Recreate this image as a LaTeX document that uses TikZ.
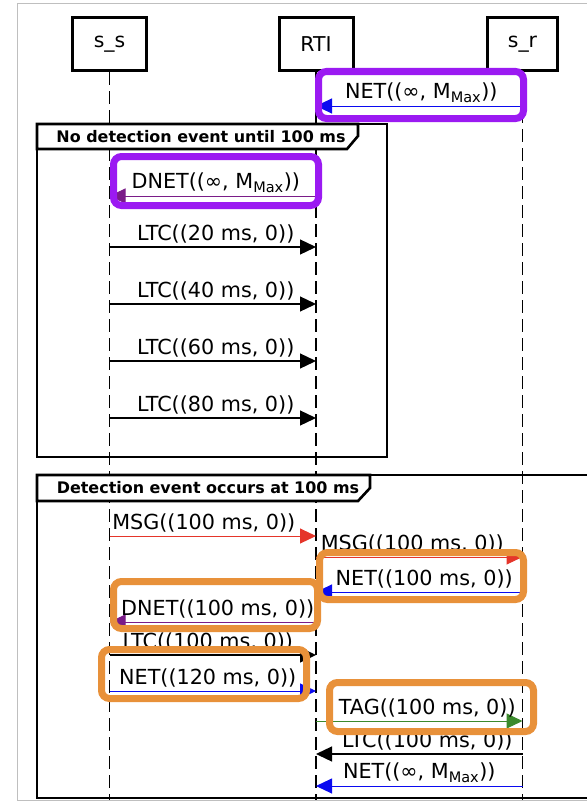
\documentclass[tikz,border=0pt]{standalone}
\usepackage{fontspec}
\setmainfont{DejaVu Sans}
\usetikzlibrary{arrows.meta}
\definecolor{violeta}{HTML}{9B1AF2}
\definecolor{naranja}{HTML}{E8913A}
\definecolor{rojoMSG}{HTML}{E5352A}
\definecolor{azulNET}{HTML}{0A0AF0}
\definecolor{moradoDNET}{HTML}{7A1C88}
\definecolor{verdeTAG}{HTML}{3B8A2C}

\begin{document}
\begin{tikzpicture}[x=1bp,y=-1bp,>={Triangle[length=16bp,width=15bp]},
  actor/.style={draw,line width=3bp,minimum width=74bp,minimum height=53bp,
    font=\fontsize{20.5}{24}\selectfont},
  vida/.style={dashed,dash pattern=on 13bp off 6bp,line width=1.6bp},
  msg/.style={->,line width=1bp},
  lbl/.style={midway,above,inner sep=3bp,font=\fontsize{20.8}{24}\selectfont},
  marco/.style={line width=2.6bp},
  pestana/.style={font=\bfseries\fontsize{16}{19}\selectfont},
  resalte/.style={rounded corners=8bp,line width=7bp}]
  \useasboundingbox (0,0) rectangle (587,802);
  \draw[gray!50] (587,3) -- (17.5,3) -- (17.5,800.5) -- (587,800.5);

  % participants and lifelines
  \node[actor] (ss) at (109.5,44) {s\_s};
  \node[actor] (rti) at (316,44) {RTI};
  \node[actor,minimum width=70bp] (sr) at (522.5,44) {s\_r};
  \coordinate (fondo) at (0,800);
  \foreach \p in {ss,rti,sr}
    \draw[vida] (\p.south) -- (\p.south |- fondo);

  % message rows
  \foreach \n/\y in {1/106,2/196,3/247,4/304,5/361,6/418,7/536,8/557,
                     9/592,10/622,11/655,12/691,13/721,14/754,15/786} {
    \coordinate (ss\n) at (109.5,\y);
    \coordinate (rti\n) at (316,\y);
    \coordinate (sr\n) at (522.5,\y);
  }

  % frames
  \draw[marco] (37,124) rectangle (387,457);
  \draw[marco,fill=white] (37,124) -- (358,124) -- (358,136) -- (347,149)
    -- (37,149) -- cycle;
  \node[pestana] (tab1) at (201,136.5) {No detection event until 100 ms};
  \draw[marco] (587,475) -- (37,475) -- (37,798) -- (587,798);
  \draw[marco,fill=white] (37,475) -- (370,475) -- (370,488) -- (358,501)
    -- (37,501) -- cycle;
  \node[pestana] (tab2) at (208,488) {Detection event occurs at 100 ms};

  \draw[msg,azulNET] (sr1) -- (rti1)
    node[lbl,black,xshift=2bp] (t1) {NET((∞, M\textsubscript{Max}))};
  \draw[msg,moradoDNET] (rti2) -- (ss2)
    node[lbl,black,xshift=3bp] (t2) {DNET((∞, M\textsubscript{Max}))};
  \foreach \n/\t in {3/20,4/40,5/60,6/80}
    \draw[msg,line width=1.3bp] (ss\n) -- (rti\n)
      node[lbl,xshift=3bp] (t\n) {LTC((\t\ ms, 0))};

  \draw[msg,rojoMSG] (ss7) -- (rti7)
    node[lbl,black,xshift=-9bp] (t7) {MSG((100 ms, 0))};
  \draw[msg,rojoMSG] (rti8) -- (sr8)
    node[lbl,black,xshift=-7bp] (t8) {MSG((100 ms, 0))};
  \draw[msg,azulNET] (sr9) -- (rti9)
    node[lbl,black,xshift=5bp] (t9) {NET((100 ms, 0))};
  \draw[msg,moradoDNET] (rti10) -- (ss10)
    node[lbl,black,xshift=5bp] (t10) {DNET((100 ms, 0))};
  \draw[msg,line width=1.3bp] (ss11) -- (rti11)
    node[lbl,xshift=-5bp] (t11) {LTC((100 ms, 0))};
  \draw[msg,azulNET] (ss12) -- (rti12)
    node[lbl,black,xshift=-5bp] (t12) {NET((120 ms, 0))};
  \draw[msg,verdeTAG] (rti13) -- (sr13)
    node[lbl,black,xshift=8bp] (t13) {TAG((100 ms, 0))};
  \draw[msg,line width=1.3bp] (sr14) -- (rti14)
    node[lbl,xshift=8bp] (t14) {LTC((100 ms, 0))};
  \draw[msg,azulNET] (sr15) -- (rti15)
    node[lbl,black] (t15) {NET((∞, M\textsubscript{Max}))};

  % highlights
  \draw[resalte,violeta] (318.5,71.5) rectangle (523.5,118.5);
  \draw[resalte,violeta] (113.5,156.5) rectangle (318.5,205.5);
  \draw[resalte,naranja] (319.5,552.5) rectangle (523.5,599.5);
  \draw[resalte,naranja] (113.5,581.5) rectangle (317.5,628.5);
  \draw[resalte,naranja] (101.5,649.5) rectangle (306.5,698.5);
  \draw[resalte,naranja] (329.5,682.5) rectangle (533.5,731.5);
\end{tikzpicture}
\end{document}
